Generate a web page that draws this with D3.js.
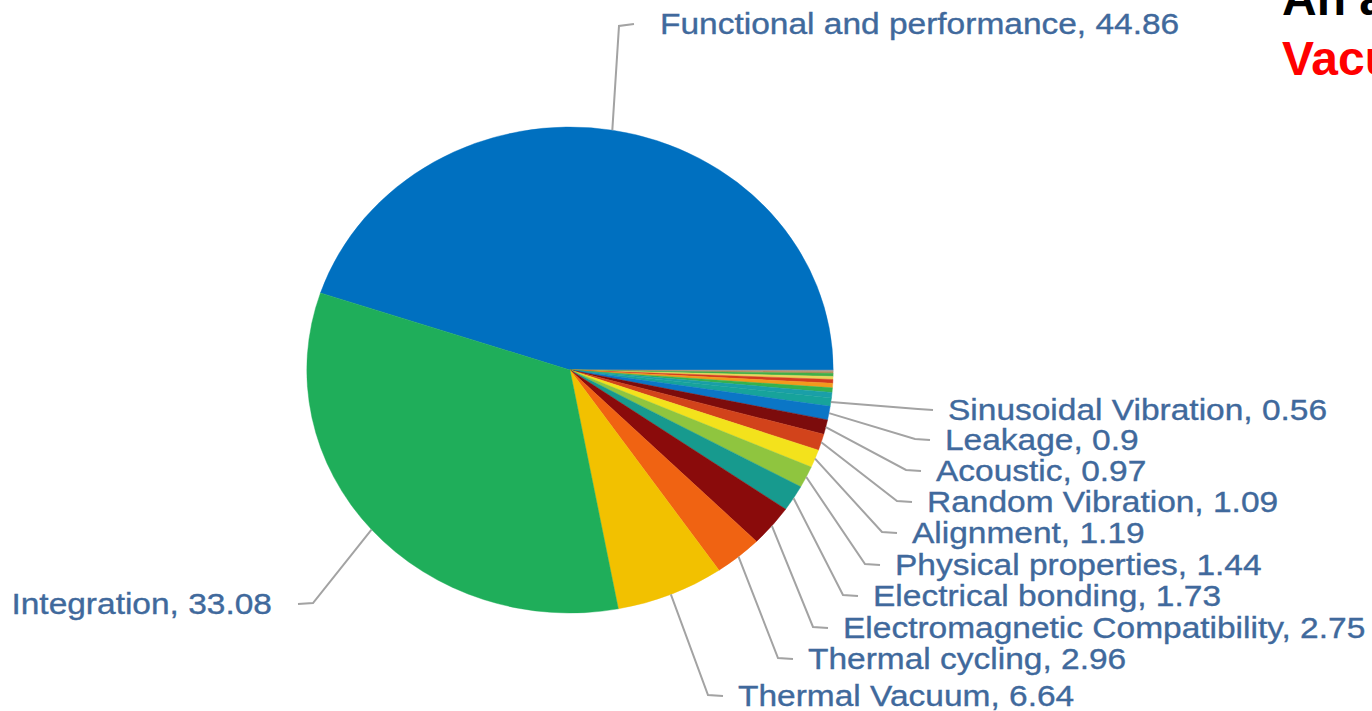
<!DOCTYPE html>
<html>
<head>
<meta charset="utf-8">
<script src="https://cdn.jsdelivr.net/npm/d3@7"></script>
<style>
  html, body { margin: 0; padding: 0; background: #fff; overflow: hidden; }
  svg { display: block; }
</style>
</head>
<body>
<svg id="chart" width="1372" height="711"></svg>
<script>
// Share of test effort by category (percent)
const categories = [
  "Functional and performance",
  "Sinusoidal Vibration",
  "Leakage",
  "Acoustic",
  "Random Vibration",
  "Alignment",
  "Physical properties",
  "Electrical bonding",
  "Electromagnetic Compatibility",
  "Thermal cycling",
  "Thermal Vacuum",
  "Integration"
];
const values = [44.86, 0.56, 0.9, 0.97, 1.09, 1.19, 1.44, 1.73, 2.75, 2.96, 6.64, 33.08];
const colors = [
  "#0070c0", "#17a39b", "#0b76c6", "#7c0c0c", "#d2431b", "#f3e21c",
  "#8fc53f", "#179a8e", "#8a0b0b", "#f06312", "#f2c100", "#1fae5a"
];

// Thin slivers next to the big slice that carry no label
const minorValues = [0.1, 0.12, 0.2, 0.2, 0.25, 0.3, 0.3, 0.36];
const minorColors = ["#9c9c9c", "#b98e5e", "#3fae4a", "#e9d55a", "#d23b1f", "#f39a1d", "#35b24e", "#1a9fa8"];

// Where each label's text begins (or ends, for left-side labels), and its vertical middle
const labelSpots = [
  { x: 660, y: 24, side: "right" },
  { x: 948, y: 410, side: "right" },
  { x: 945, y: 440, side: "right" },
  { x: 936, y: 471, side: "right" },
  { x: 927, y: 502, side: "right" },
  { x: 912, y: 533, side: "right" },
  { x: 895, y: 565, side: "right" },
  { x: 873, y: 596, side: "right" },
  { x: 843, y: 628, side: "right" },
  { x: 808, y: 659, side: "right" },
  { x: 738, y: 696, side: "right" },
  { x: 272, y: 604, side: "left" }
];

// Slice order around the pie (clockwise): big slice, slivers, then the rest
const slices = [];
slices.push({ name: categories[0], value: values[0], color: colors[0], idx: 0 });
minorValues.forEach((v, i) => slices.push({ name: null, value: v, color: minorColors[i], idx: -1 }));
for (let i = 1; i < categories.length; i++) {
  slices.push({ name: categories[i], value: values[i], color: colors[i], idx: i });
}

const svg = d3.select("#chart");
const cx = 570, cy = 370;
const ry = 243;
const stretch = 1.083;         // horizontal stretch of the whole drawing
const rx = ry * stretch;

const total = d3.sum(slices, d => d.value);
const firstSpan = values[0] / total * 2 * Math.PI;
const start = Math.PI / 2 - firstSpan;

const pie = d3.pie().sort(null).value(d => d.value)
  .startAngle(start).endAngle(start + 2 * Math.PI);
const arcs = pie(slices);
const arc = d3.arc().innerRadius(0).outerRadius(ry);

const pieG = svg.append("g")
  .attr("transform", `translate(${cx},${cy}) scale(${stretch},1)`);
pieG.selectAll("path")
  .data(arcs)
  .join("path")
  .attr("d", arc)
  .attr("fill", d => d.data.color)
  .attr("stroke", d => d.data.color)
  .attr("stroke-width", 0.4);

// Leader lines and labels
const edgePoint = a => [cx + rx * Math.sin(a), cy - ry * Math.cos(a)];
const fontSize = 29;
const textStretch = 1.155;

const labelled = arcs.filter(d => d.data.idx >= 0);
const lineG = svg.append("g");
const textG = svg.append("g");

labelled.forEach(d => {
  const spot = labelSpots[d.data.idx];
  const mid = (d.startAngle + d.endAngle) / 2;
  const p0 = edgePoint(mid);
  const dir = spot.side === "right" ? 1 : -1;
  const gap = (d.data.idx === 0 || d.data.idx === 11) ? 26 : 15;
  const seg = 15;
  const p2 = [spot.x - dir * gap, spot.y];
  const p1 = [p2[0] - dir * seg, spot.y + (d.data.idx === 0 ? 2 : -1)];
  lineG.append("path")
    .attr("d", d3.line()([p0, p1, p2]))
    .attr("fill", "none")
    .attr("stroke", "#a3a3a3")
    .attr("stroke-width", 2);

  textG.append("text")
    .attr("transform", `translate(${spot.x},${spot.y}) scale(${textStretch},1)`)
    .attr("text-anchor", spot.side === "right" ? "start" : "end")
    .attr("dy", "0.35em")
    .attr("font-family", "'Liberation Sans', Arial, sans-serif")
    .attr("font-size", fontSize)
    .attr("fill", "#40699c")
    .attr("stroke", "#40699c")
    .attr("stroke-width", 0.35)
    .text(`${d.data.name}, ${d.data.value}`);
});

// Slide heading, running off the right edge
svg.append("text")
  .attr("x", 1282).attr("y", 15)
  .attr("font-family", "'Liberation Sans', Arial, sans-serif")
  .attr("font-weight", "bold")
  .attr("font-size", 48)
  .attr("fill", "#000")
  .text("An a");
svg.append("text")
  .attr("x", 1282).attr("y", 75)
  .attr("font-family", "'Liberation Sans', Arial, sans-serif")
  .attr("font-weight", "bold")
  .attr("font-size", 48)
  .attr("fill", "#ff0000")
  .text("Vacuum");
</script>
</body>
</html>
